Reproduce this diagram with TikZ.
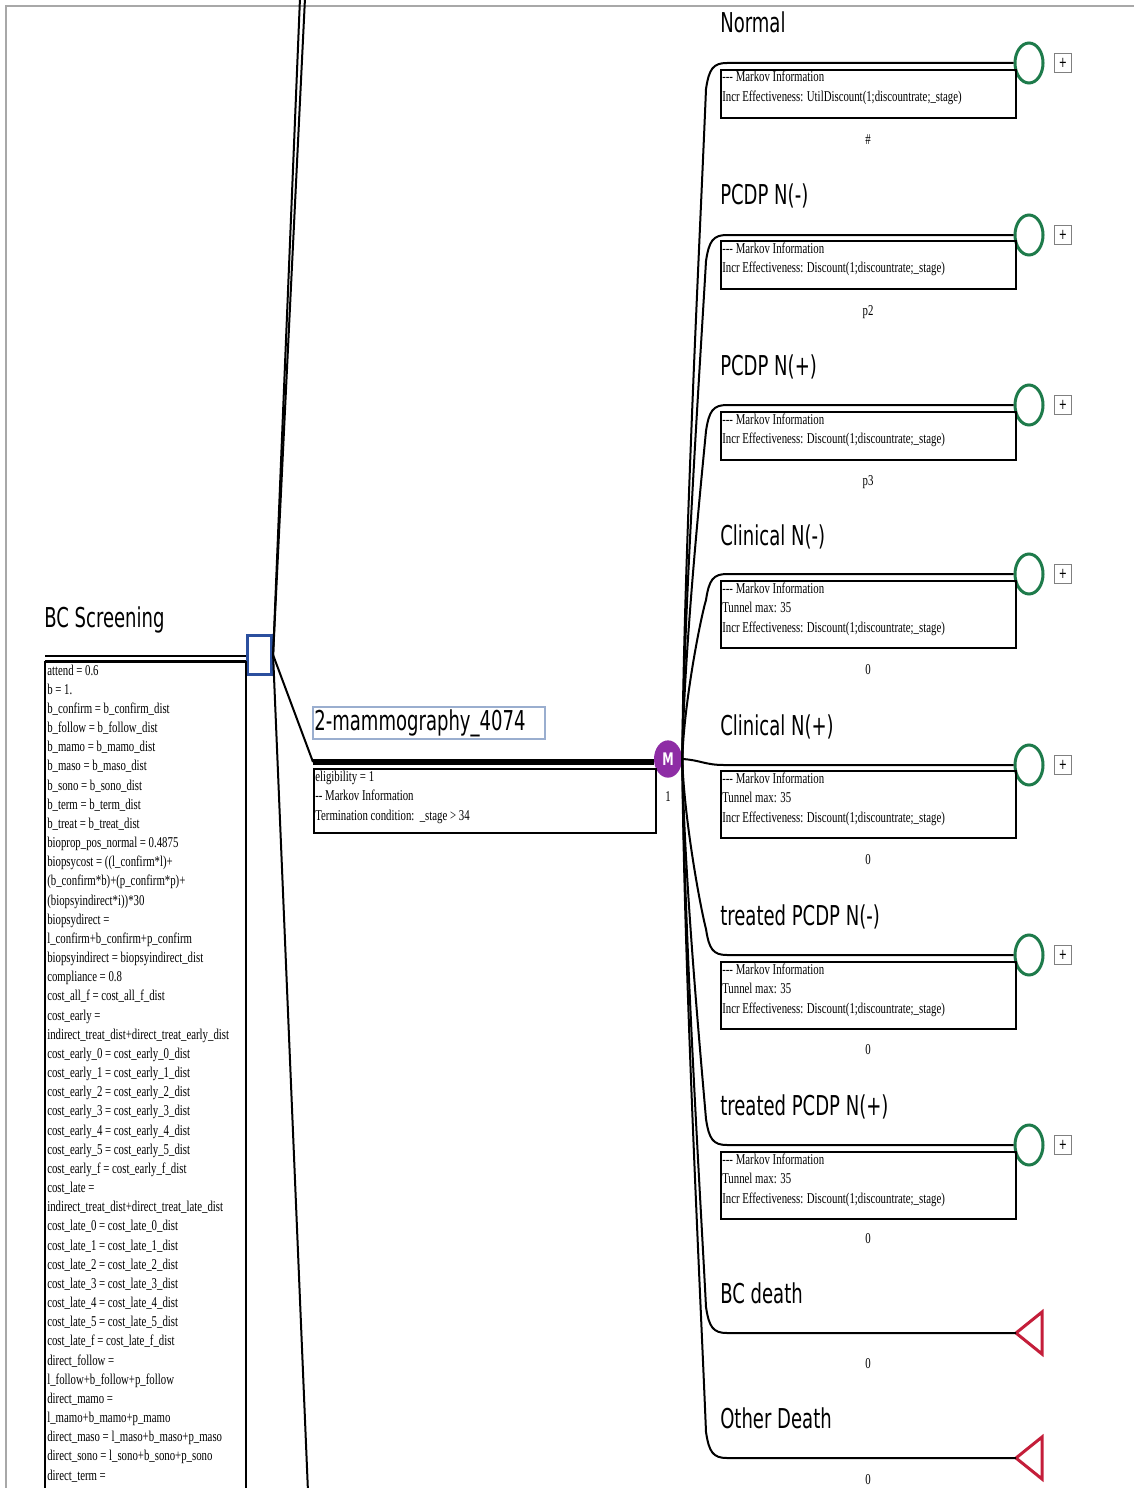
\documentclass[tikz,border=0pt]{standalone}
\usepackage{fontspec}
\usetikzlibrary{shapes.geometric}
\setmainfont{Liberation Serif}[FakeStretch=0.72]
\newfontfamily\labfont{DejaVu Sans}[FakeStretch=0.66]
\definecolor{decblue}{HTML}{2B4F9E}
\definecolor{mpurple}{HTML}{8E2DA5}
\definecolor{sgreen}{HTML}{1E7B4B}
\definecolor{tred}{HTML}{C41E3A}
\definecolor{lblbox}{HTML}{9AAECF}
\definecolor{framegray}{HTML}{A8A8A8}
\tikzset{
  branch/.style={line width=1.5pt},
  lbl/.style={font=\labfont\fontsize{20.5}{24}\selectfont, anchor=base west, inner sep=0pt},
  vtxt/.style={font=\fontsize{11.25}{13.5}\selectfont, anchor=base west, inner sep=0pt},
  val/.style={font=\fontsize{11.25}{13.5}\selectfont, inner sep=0pt},
  mkbox/.style={draw, line width=1.5pt, anchor=north west, minimum width=221.25pt, inner sep=0pt},
  stcirc/.style={ellipse, draw=sgreen, line width=2.25pt, minimum width=21pt, minimum height=30pt, inner sep=0pt},
  plusbox/.style={draw=gray, line width=0.9pt, minimum width=12.75pt, minimum height=14.25pt, inner sep=0pt, font=\labfont\fontsize{11}{12}\selectfont},
  decbox/.style={draw=decblue, line width=2.4pt, minimum width=18pt, minimum height=29.5pt, inner sep=0pt, fill=white},
  mnode/.style={ellipse, fill=mpurple, minimum width=21pt, minimum height=28pt, inner sep=0pt, text=white, font=\labfont\bfseries\fontsize{13}{14}\selectfont},
  termtri/.style={draw=tred, line width=2.25pt, line join=miter},
}
\newcommand{\markovbox}[4]{%
  \node[mkbox, minimum height=#3] (#1) at (720,#2) {};
  \foreach \tt [count=\k from 0] in {#4} {\node[vtxt] (#1l\k) at (722,#2+13+19.5*\k) {\tt};}
}
\begin{document}
\begin{tikzpicture}[x=0.75pt,y=-0.75pt]
\useasboundingbox (0,0) rectangle (1134,1488);
\clip (0,0) rectangle (1134,1488);
\fill[white] (0,0) rectangle (1134,1488);
\draw[framegray, line width=1.5pt] (6,1490) -- (6,6) -- (1136,6);

% ---------- left: decision node and variables ----------
\node[lbl] (bclab) at (44,627) {BC Screening};
\node[decbox] (dec) at (259.5,655) {};
\coordinate (inA) at (45,656);
\coordinate (inB) at (45,661);
\draw[branch] (inA) -- (inA -| dec.west);
\draw[line width=1pt] (inB) -- (inB -| dec.west);
\draw[line width=1.2pt] (45,662) rectangle (246,1510);
\foreach \tt [count=\k from 0] in {
attend = 0.6,
b = 1.,
b\_confirm = b\_confirm\_dist,
b\_follow = b\_follow\_dist,
b\_mamo = b\_mamo\_dist,
b\_maso = b\_maso\_dist,
b\_sono = b\_sono\_dist,
b\_term = b\_term\_dist,
b\_treat = b\_treat\_dist,
bioprop\_pos\_normal = 0.4875,
biopsycost = ((l\_confirm*l)+,
{(b\_confirm*b)+(p\_confirm*p)+},
{(biopsyindirect*i))*30},
biopsydirect =,
l\_confirm+b\_confirm+p\_confirm,
biopsyindirect = biopsyindirect\_dist,
compliance = 0.8,
cost\_all\_f = cost\_all\_f\_dist,
cost\_early =,
indirect\_treat\_dist+direct\_treat\_early\_dist,
cost\_early\_0 = cost\_early\_0\_dist,
cost\_early\_1 = cost\_early\_1\_dist,
cost\_early\_2 = cost\_early\_2\_dist,
cost\_early\_3 = cost\_early\_3\_dist,
cost\_early\_4 = cost\_early\_4\_dist,
cost\_early\_5 = cost\_early\_5\_dist,
cost\_early\_f = cost\_early\_f\_dist,
cost\_late =,
indirect\_treat\_dist+direct\_treat\_late\_dist,
cost\_late\_0 = cost\_late\_0\_dist,
cost\_late\_1 = cost\_late\_1\_dist,
cost\_late\_2 = cost\_late\_2\_dist,
cost\_late\_3 = cost\_late\_3\_dist,
cost\_late\_4 = cost\_late\_4\_dist,
cost\_late\_5 = cost\_late\_5\_dist,
cost\_late\_f = cost\_late\_f\_dist,
direct\_follow =,
l\_follow+b\_follow+p\_follow,
direct\_mamo =,
l\_mamo+b\_mamo+p\_mamo,
direct\_maso = l\_maso+b\_maso+p\_maso,
direct\_sono = l\_sono+b\_sono+p\_sono,
direct\_term =}
{\node[vtxt] (var\k) at (47,675+19.17*\k) {\tt};}

% lines out of the decision node
\coordinate (topA) at (300,-2);
\coordinate (topB) at (305,-2);
\coordinate (botA) at (308,1492);
\draw[branch] (dec.east) -- (topA);
\draw[branch] (dec.east) -- (topB);
\draw[branch] (dec.east) -- (botA);

% ---------- middle: strategy branch ----------
\node[lbl, draw=lblbox, line width=1.5pt, anchor=west, inner xsep=1pt, inner ysep=2pt, text width=172pt, minimum height=22.5pt] (mlab) at (312,723) {2-mammography\_4074};
\node[mnode] (M) at (668,759) {M};
\node[val] (one) at (668,797) {1};
\coordinate (mstart) at (313,762);
\draw[branch] (dec.east) -- (mstart);
\draw[line width=4.5pt] (mstart) -- (mstart -| M.west);
\node[draw, line width=1.5pt, anchor=north west, minimum width=256.5pt, minimum height=48pt, inner sep=0pt] (mbox) at (313,768) {};
\node[vtxt] (mb1) at (315,781) {eligibility = 1};
\node[vtxt] (mb2) at (315,800.5) {-{}- Markov Information};
\node[vtxt] (mb3) at (315,820) {Termination condition:\ \ \_stage > 34};

% ---------- right: Markov states ----------
\foreach \yy [count=\i] in {63,235,405,574,765,955,1145}{
  \node[stcirc] (s\i) at (1029,\yy) {};
  \node[plusbox] (p\i) at (1063,\yy) {+};
}
\coordinate (t1) at (1016,1333);
\coordinate (t2) at (1016,1458);
\draw[termtri] (t1) -- ++(26,-21) -- ++(0,42) -- cycle;
\draw[termtri] (t2) -- ++(26,-21) -- ++(0,42) -- cycle;

% labels
\node[lbl] (l1) at (720,33) {Normal};
\node[lbl] (l2) at (720,204) {PCDP N(-)};
\node[lbl] (l3) at (720,375) {PCDP N(+)};
\node[lbl] (l4) at (720,545) {Clinical N(-)};
\node[lbl] (l5) at (720,735) {Clinical N(+)};
\node[lbl] (l6) at (720,925) {treated PCDP N(-)};
\node[lbl] (l7) at (720,1115) {treated PCDP N(+)};
\node[lbl] (l8) at (720,1303) {BC death};
\node[lbl] (l9) at (720,1428) {Other Death};

% branches from M
\foreach \yy/\tg in {63/s1,235/s2,405/s3,574/s4}{
  \draw[branch] (M.east) .. controls (684,{759-0.3*(759-\yy)}) and (700,{\yy+0.25*(759-\yy)}) .. (706,\yy+26) .. controls (709,\yy+6) and (713,\yy) .. (727,\yy) -- (\tg.west);
}
\draw[branch] (M.east) .. controls (700,760) and (705,765) .. (724,765) -- (s5.west);
\foreach \yy/\tg in {955/s6,1145/s7,1333/t1,1458/t2}{
  \draw[branch] (M.east) .. controls (684,{759+0.3*(\yy-759)}) and (700,{\yy-0.25*(\yy-759)}) .. (706,\yy-26) .. controls (709,\yy-6) and (713,\yy) .. (727,\yy) -- (\tg);
}

% Markov information boxes
\markovbox{b1}{69}{36pt}{-{}-{}- Markov Information, Incr Effectiveness: UtilDiscount(1;discountrate;\_stage)}
\markovbox{b2}{240}{36pt}{-{}-{}- Markov Information, Incr Effectiveness: Discount(1;discountrate;\_stage)}
\markovbox{b3}{411}{36pt}{-{}-{}- Markov Information, Incr Effectiveness: Discount(1;discountrate;\_stage)}
\markovbox{b4}{580}{50.25pt}{-{}-{}- Markov Information, Tunnel max: 35, Incr Effectiveness: Discount(1;discountrate;\_stage)}
\markovbox{b5}{770}{50.25pt}{-{}-{}- Markov Information, Tunnel max: 35, Incr Effectiveness: Discount(1;discountrate;\_stage)}
\markovbox{b6}{961}{50.25pt}{-{}-{}- Markov Information, Tunnel max: 35, Incr Effectiveness: Discount(1;discountrate;\_stage)}
\markovbox{b7}{1151}{50.25pt}{-{}-{}- Markov Information, Tunnel max: 35, Incr Effectiveness: Discount(1;discountrate;\_stage)}

% values
\node[val] (v1) at (868,140) {\#};
\node[val] (v2) at (868,312) {p2};
\node[val] (v3) at (868,482) {p3};
\node[val] (v4) at (868,670) {0};
\node[val] (v5) at (868,860) {0};
\node[val] (v6) at (868,1050) {0};
\node[val] (v7) at (868,1239) {0};
\node[val] (v8) at (868,1364) {0};
\node[val] (v9) at (868,1480) {0};
\end{tikzpicture}
\end{document}
